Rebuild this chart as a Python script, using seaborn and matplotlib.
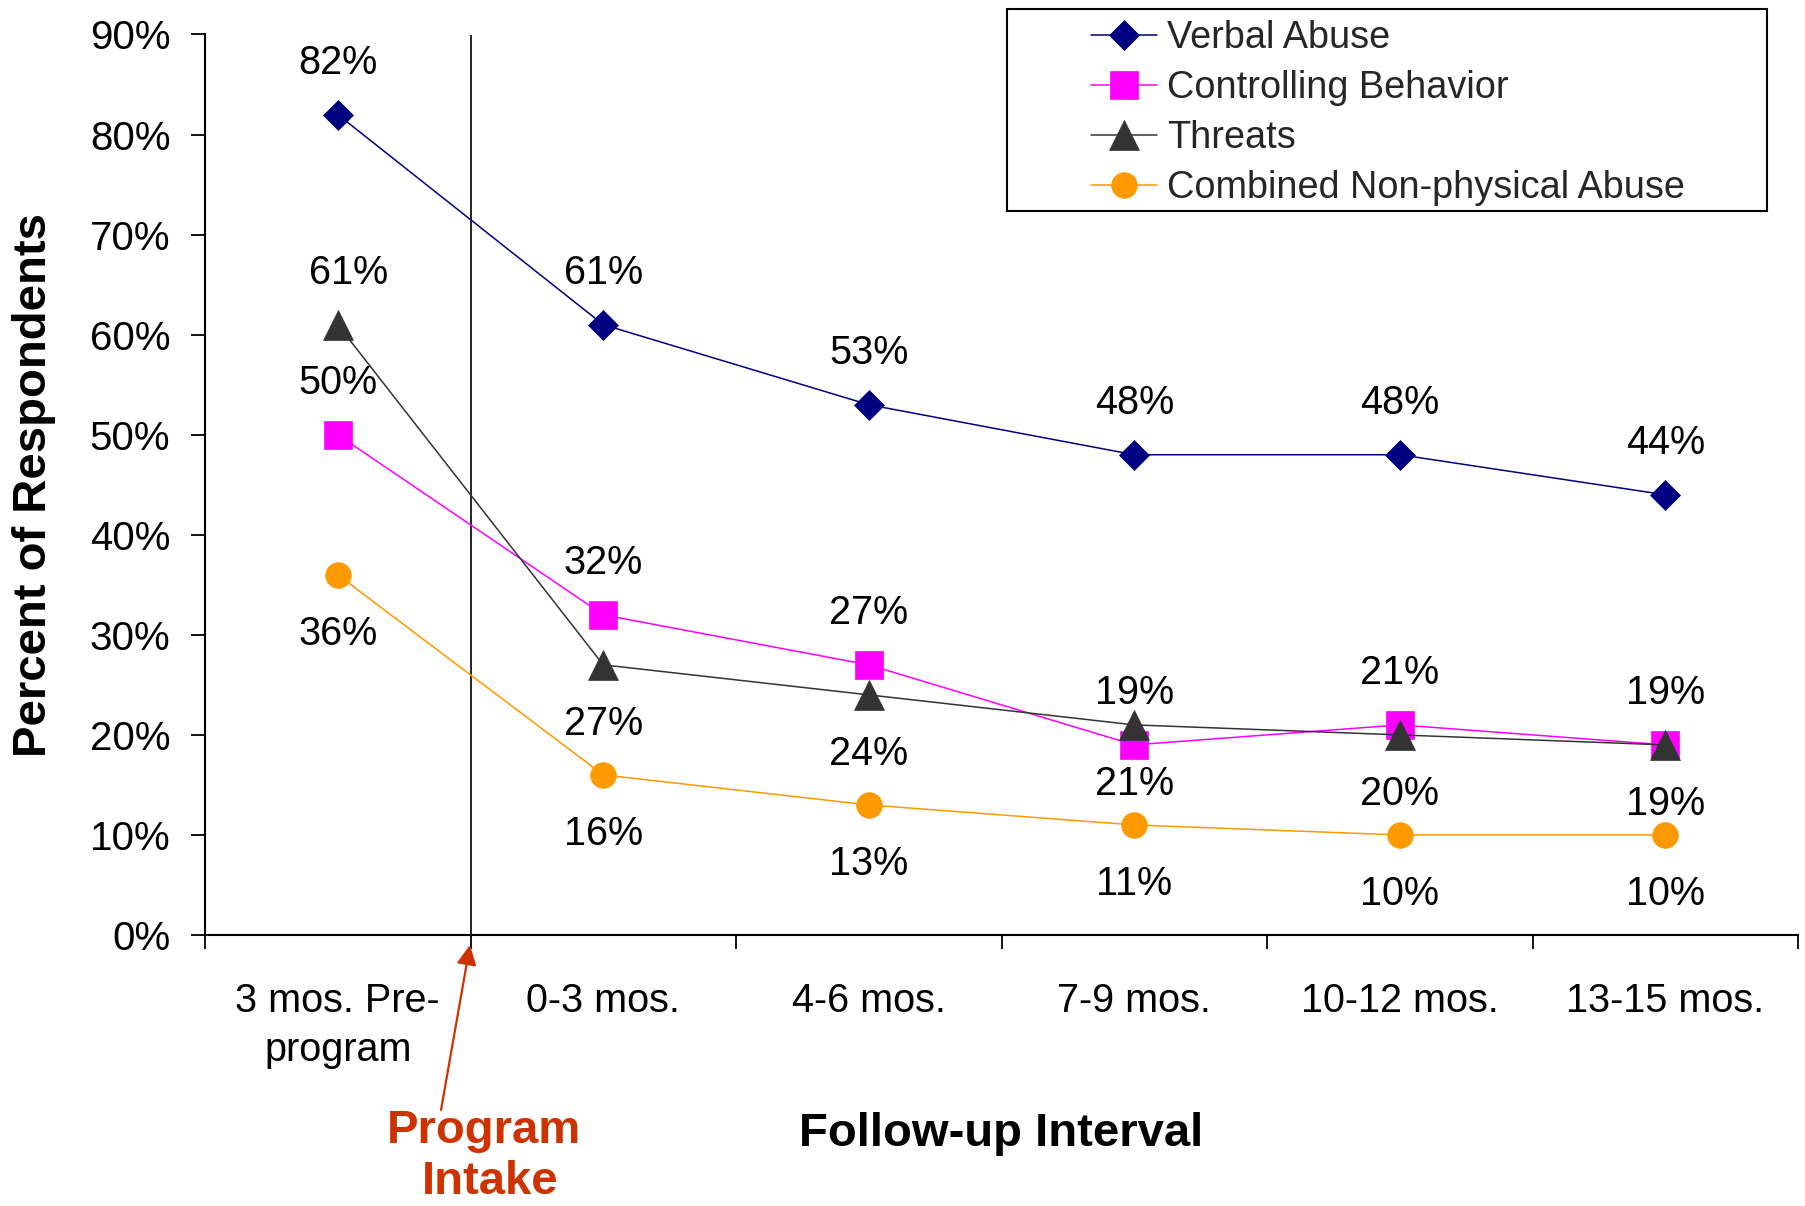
import numpy as np
import pandas as pd
import matplotlib
matplotlib.use("Agg")
import matplotlib.pyplot as plt
from matplotlib.patches import Rectangle
import seaborn as sns

# ---- data -------------------------------------------------------------
intervals = ["3 mos. Pre-\nprogram", "0-3 mos.", "4-6 mos.", "7-9 mos.",
             "10-12 mos.", "13-15 mos."]
series_names = ["Verbal Abuse", "Controlling Behavior", "Threats",
                "Combined Non-physical Abuse"]
verbal_abuse = [82, 61, 53, 48, 48, 44]
controlling_behavior = [50, 32, 27, 19, 21, 19]
threats = [61, 27, 24, 21, 20, 19]
combined_nonphysical = [36, 16, 13, 11, 10, 10]
y_tick_values = [0, 10, 20, 30, 40, 50, 60, 70, 80, 90]

values = {
    "Verbal Abuse": verbal_abuse,
    "Controlling Behavior": controlling_behavior,
    "Threats": threats,
    "Combined Non-physical Abuse": combined_nonphysical,
}

# ---- styling ----------------------------------------------------------
colors = {
    "Verbal Abuse": "#000080",
    "Controlling Behavior": "#FF00FF",
    "Threats": "#333333",
    "Combined Non-physical Abuse": "#FF9900",
}
markers = {
    "Verbal Abuse": "D",
    "Controlling Behavior": "s",
    "Threats": "^",
    "Combined Non-physical Abuse": "o",
}
marker_sizes = {
    "Verbal Abuse": 15,
    "Controlling Behavior": 20,
    "Threats": 21,
    "Combined Non-physical Abuse": 18.5,
}
# where each value label sits relative to its point
label_side = {
    "Verbal Abuse": ["above"] * 6,
    "Controlling Behavior": ["above"] * 6,
    "Threats": ["above"] + ["below"] * 5,
    "Combined Non-physical Abuse": ["below"] * 6,
}
intake_color = "#CC3300"

sns.set_theme(style="white")
plt.rcParams["font.family"] = ["Liberation Sans", "DejaVu Sans"]

W, H = 1805, 1206
fig = plt.figure(figsize=(W / 100, H / 100), dpi=100)
ax_left, ax_right, ax_top, ax_bottom = 205, 1798, 34.5, 935
ax = fig.add_axes([ax_left / W, 1 - ax_bottom / H,
                   (ax_right - ax_left) / W, (ax_bottom - ax_top) / H])

df = pd.DataFrame([
    {"series": name, "pos": i, "value": v}
    for name in series_names
    for i, v in enumerate(values[name])
])

for name in series_names:
    sub = df[df["series"] == name]
    sns.lineplot(data=sub, x="pos", y="value", ax=ax, color=colors[name],
                 marker=markers[name], markersize=marker_sizes[name],
                 markeredgecolor=colors[name], markerfacecolor=colors[name],
                 markeredgewidth=0.5, linewidth=1.1, label=name,
                 errorbar=None, legend=False)

if ax.get_legend() is not None:
    ax.get_legend().remove()

# value labels
for name in series_names:
    for i, v in enumerate(values[name]):
        side = label_side[name][i]
        dy = 41 if side == "above" else -70
        dx = 11 if (name == "Threats" and i == 0) else 0
        ax.annotate(f"{v}%", xy=(i, v), xytext=(dx, dy),
                    textcoords="offset pixels", ha="center", va="baseline",
                    fontsize=28.5, color="black")

# program intake marker line
ax.axvline(0.5, color="black", lw=1.2, zorder=1)

# axes
ax.set_xlim(-0.5, 5.5)
ax.set_ylim(0, 90)
ax.set_yticks(y_tick_values)
ax.set_yticklabels([f"{v}%" for v in y_tick_values])
ax.set_xticks(np.arange(-0.5, 6.0, 1.0))
ax.set_xticklabels([""] * 7)
ax.set_xticks(np.arange(len(intervals)), minor=True)
ax.set_xticklabels(intervals, minor=True)
ax.tick_params(axis="y", which="major", direction="out", length=10,
               width=1.3, color="black", pad=15, labelsize=29,
               labelcolor="black", left=True)
ax.tick_params(axis="x", which="major", direction="out", length=10,
               width=1.3, color="black", bottom=True)
ax.tick_params(axis="x", which="minor", length=0, pad=34, labelsize=28.5,
               labelcolor="black")
for lbl in ax.get_xticklabels(minor=True):
    lbl.set_linespacing(1.35)

sns.despine(ax=ax)
for side in ("left", "bottom"):
    ax.spines[side].set_color("black")
    ax.spines[side].set_linewidth(1.5)
ax.grid(False)

ax.set_xlabel("Follow-up Interval", fontsize=34, fontweight="bold",
              color="black")
ax.xaxis.set_label_coords(0.5, -0.2343)
ax.xaxis.label.set_va("baseline")
ax.set_ylabel("Percent of Respondents", fontsize=34, fontweight="bold",
              color="black")
ax.yaxis.set_label_coords((34.5 - ax_left) / (ax_right - ax_left), 0.5)
ax.yaxis.label.set_va("center")

# "Program Intake" annotation with arrow
fig.text(484 / W, 1 - 1143 / H, "Program", ha="center", va="baseline",
         fontsize=34, fontweight="bold", color=intake_color)
fig.text(490 / W, 1 - 1194 / H, "Intake", ha="center", va="baseline",
         fontsize=34, fontweight="bold", color=intake_color)
fig.add_artist(matplotlib.patches.FancyArrowPatch(
    posA=(441 / W, 1 - 1110 / H), posB=(470 / W, 1 - 945 / H),
    transform=fig.transFigure, arrowstyle="-|>", mutation_scale=30,
    color=intake_color, lw=1.6, shrinkA=0, shrinkB=0))

# legend
handles, labels = ax.get_legend_handles_labels()
fig.legend(handles, labels, loc="upper left",
           bbox_to_anchor=(1091 / W, 1 - 20 / H), frameon=False,
           fontsize=27.3, handlelength=1.74, handletextpad=0.26,
           borderpad=0, borderaxespad=0, labelspacing=0.37)
fig.add_artist(Rectangle((1007 / W, 1 - 211 / H), (1767 - 1007) / W,
                         (211 - 9) / H, transform=fig.transFigure,
                         fill=False, edgecolor="black", lw=1.5))

fig.savefig("out.png", dpi=100, facecolor="white")
